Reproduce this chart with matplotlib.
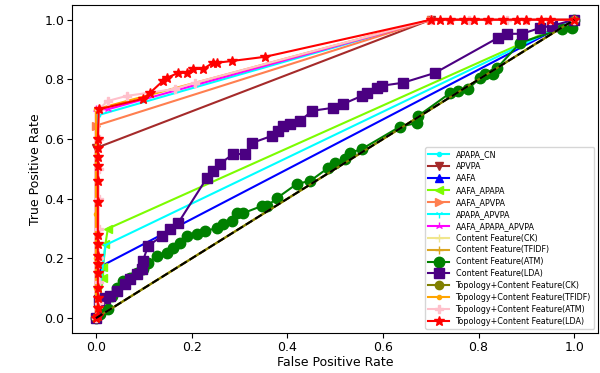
import matplotlib
matplotlib.use('Agg')
import matplotlib.pyplot as plt

# ROC curves: false positive rate / true positive rate for each feature set
apapa_cn_fpr = [0.0, 0.004, 0.7, 1.0]
apapa_cn_tpr = [0.0, 0.68, 1.0, 1.0]
apvpa_fpr = [0.0, 0.0, 0.7, 1.0]
apvpa_tpr = [0.0, 0.57, 1.0, 1.0]
aafa_fpr = [0.0, 0.012, 1.0]
aafa_tpr = [0.0, 0.175, 1.0]
aafa_apapa_fpr = [0.0, 0.015, 0.015, 0.02, 0.025, 1.0]
aafa_apapa_tpr = [0.0, 0.134, 0.17, 0.25, 0.30, 1.0]
aafa_apvpa_fpr = [0.0, 0.0, 0.7, 1.0]
aafa_apvpa_tpr = [0.0, 0.645, 1.0, 1.0]
apapa_apvpa_fpr = [0.0, 0.02, 1.0]
apapa_apvpa_tpr = [0.0, 0.245, 1.0]
aafa_apapa_apvpa_fpr = [0.0, 0.0, 0.025, 0.7, 1.0]
aafa_apapa_apvpa_tpr = [0.0, 0.70, 0.70, 1.0, 1.0]
content_ck_fpr = [0.0, 1.0]
content_ck_tpr = [0.0, 1.0]
content_tfidf_fpr = [0.0, 1.0]
content_tfidf_tpr = [0.0, 1.0]
content_atm_fpr = [0.0, 0.008, 0.025, 0.033, 0.044, 0.056, 0.071, 0.086, 0.098, 0.109,
                   0.128, 0.149, 0.161, 0.176, 0.190, 0.211, 0.228, 0.253, 0.266, 0.285,
                   0.295, 0.308, 0.347, 0.358, 0.379, 0.420, 0.448, 0.485, 0.500, 0.521,
                   0.531, 0.556, 0.636, 0.671, 0.674, 0.741, 0.757, 0.778, 0.803, 0.814,
                   0.831, 0.839, 0.887, 0.975, 0.996, 1.0]
content_atm_tpr = [0.0, 0.013, 0.030, 0.074, 0.100, 0.124, 0.134, 0.151, 0.164, 0.185,
                   0.208, 0.218, 0.235, 0.252, 0.275, 0.282, 0.292, 0.302, 0.315, 0.326,
                   0.352, 0.352, 0.376, 0.376, 0.403, 0.450, 0.460, 0.503, 0.520, 0.534,
                   0.554, 0.567, 0.642, 0.654, 0.678, 0.755, 0.762, 0.768, 0.805, 0.819,
                   0.819, 0.839, 0.923, 0.970, 0.973, 1.0]
content_lda_fpr = [0.0, 0.006, 0.019, 0.029, 0.044, 0.061, 0.071, 0.086, 0.096, 0.098,
                   0.109, 0.138, 0.155, 0.172, 0.232, 0.245, 0.259, 0.287, 0.312, 0.326,
                   0.368, 0.381, 0.391, 0.406, 0.427, 0.452, 0.496, 0.517, 0.556, 0.567,
                   0.588, 0.598, 0.642, 0.709, 0.841, 0.860, 0.891, 0.929, 0.954, 1.0]
content_lda_tpr = [0.0, 0.06, 0.067, 0.074, 0.091, 0.114, 0.131, 0.148, 0.164, 0.191,
                   0.242, 0.275, 0.299, 0.319, 0.470, 0.493, 0.517, 0.550, 0.550, 0.587,
                   0.611, 0.628, 0.644, 0.651, 0.661, 0.695, 0.705, 0.718, 0.745, 0.755,
                   0.772, 0.779, 0.789, 0.822, 0.940, 0.953, 0.953, 0.973, 0.980, 1.0]
topo_ck_fpr = [0.0, 1.0]
topo_ck_tpr = [0.0, 1.0]
topo_tfidf_fpr = [0.0, 0.0, 0.0, 0.0, 0.0, 0.7, 1.0]
topo_tfidf_tpr = [0.0, 0.10, 0.20, 0.35, 0.70, 1.0, 1.0]
topo_atm_fpr = [0.0, 0.006, 0.006, 0.006, 0.006, 0.006, 0.006, 0.006, 0.006, 0.025,
                0.065, 0.165, 0.207, 0.7, 0.74, 0.78, 0.82, 0.86, 0.9, 0.95, 1.0]
topo_atm_tpr = [0.0, 0.05, 0.12, 0.20, 0.30, 0.40, 0.50, 0.60, 0.70, 0.728,
                0.745, 0.768, 0.789, 1.0, 1.0, 1.0, 1.0, 1.0, 1.0, 1.0, 1.0]
topo_lda_fpr = [0.0, 0.004, 0.004, 0.004, 0.004, 0.004, 0.004, 0.004, 0.004, 0.004,
                0.004, 0.004, 0.004, 0.004, 0.004, 0.004, 0.006, 0.098, 0.113, 0.140,
                0.148, 0.172, 0.19, 0.203, 0.224, 0.245, 0.253, 0.285, 0.354, 0.7,
                0.72, 0.74, 0.77, 0.79, 0.82, 0.85, 0.88, 0.90, 0.93, 0.95, 1.0]
topo_lda_tpr = [0.0, 0.007, 0.034, 0.067, 0.10, 0.15, 0.18, 0.21, 0.25, 0.28,
                0.39, 0.46, 0.51, 0.54, 0.57, 0.60, 0.70, 0.735, 0.755, 0.795,
                0.805, 0.822, 0.822, 0.835, 0.835, 0.856, 0.856, 0.862, 0.876, 1.0,
                1.0, 1.0, 1.0, 1.0, 1.0, 1.0, 1.0, 1.0, 1.0, 1.0, 1.0]

plt.figure(figsize=(6, 3.73), dpi=100)
plt.plot(apapa_cn_fpr, apapa_cn_tpr, color='cyan', marker='.', label='APAPA_CN')
plt.plot(apvpa_fpr, apvpa_tpr, color='brown', marker='v', label='APVPA')
plt.plot(aafa_fpr, aafa_tpr, color='blue', marker='^', label='AAFA')
plt.plot(aafa_apapa_fpr, aafa_apapa_tpr, color='lawngreen', marker='<', label='AAFA_APAPA')
plt.plot(aafa_apvpa_fpr, aafa_apvpa_tpr, color='coral', marker='>', label='AAFA_APVPA')
plt.plot(apapa_apvpa_fpr, apapa_apvpa_tpr, color='cyan', marker='1', label='APAPA_APVPA')
plt.plot(aafa_apapa_apvpa_fpr, aafa_apapa_apvpa_tpr, color='magenta', marker='2', label='AAFA_APAPA_APVPA')
plt.plot(content_ck_fpr, content_ck_tpr, color='khaki', marker='+', label='Content Feature(CK)')
plt.plot(content_tfidf_fpr, content_tfidf_tpr, color='goldenrod', marker='+', label='Content Feature(TFIDF)')
plt.plot(content_atm_fpr, content_atm_tpr, color='green', marker='o', markersize=7.5, label='Content Feature(ATM)')
plt.plot(content_lda_fpr, content_lda_tpr, color='indigo', marker='s', markersize=7.5, label='Content Feature(LDA)')
plt.plot(topo_ck_fpr, topo_ck_tpr, color='olive', marker='o', label='Topology+Content Feature(CK)')
plt.plot(topo_tfidf_fpr, topo_tfidf_tpr, color='orange', marker='o', markersize=3, label='Topology+Content Feature(TFIDF)')
plt.plot(topo_atm_fpr, topo_atm_tpr, color='pink', marker='P', label='Topology+Content Feature(ATM)')
plt.plot(topo_lda_fpr, topo_lda_tpr, color='red', marker='*', markersize=7, label='Topology+Content Feature(LDA)')
plt.plot([0, 1], [0, 1], 'k--')

plt.xlabel('False Positive Rate', fontsize=9, labelpad=1.5)
plt.ylabel('True Positive Rate', fontsize=9, labelpad=2)
plt.tick_params(labelsize=9, pad=2)
plt.legend(loc='lower right', fontsize=5.8, labelspacing=0.36, handlelength=2.6)
plt.subplots_adjust(left=0.12, right=0.997, top=0.987, bottom=0.107)
plt.savefig('out.png')
